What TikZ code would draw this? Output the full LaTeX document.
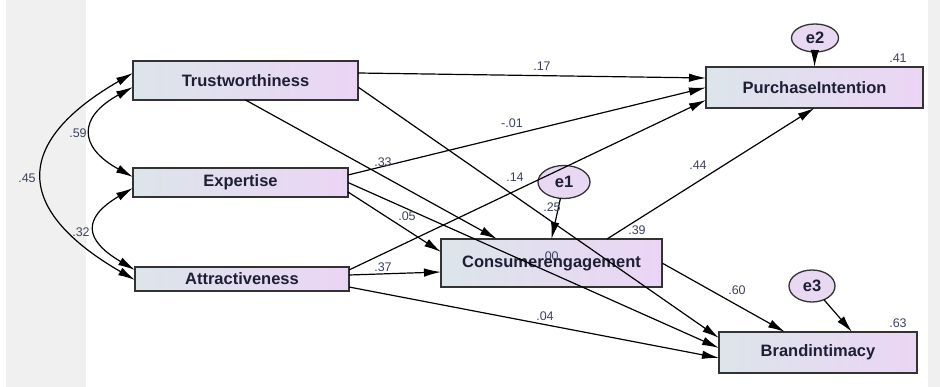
\documentclass[tikz,border=0pt]{standalone}
\usepackage{fontspec}
\setmainfont{Liberation Sans}
\usetikzlibrary{arrows.meta,shapes.geometric}
\definecolor{boxleft}{RGB}{220,229,234}
\definecolor{boxright}{RGB}{235,213,245}
\definecolor{errfill}{RGB}{232,216,242}
\definecolor{coefcol}{RGB}{60,66,92}
\definecolor{stripgray}{RGB}{240,240,240}
\definecolor{labelcol}{RGB}{30,30,52}

\begin{document}
\begin{tikzpicture}[x=1pt,y=-1pt]
        \tikzstyle{var}=[draw=black!80,line width=1.3pt,left color=boxleft,right color=boxright,inner sep=0pt,outer sep=0pt,font=\bfseries\fontsize{16.5}{18}\selectfont,text=labelcol]
        \tikzstyle{err}=[ellipse,draw=black!80,line width=1.3pt,fill=errfill,inner sep=0pt,outer sep=0pt,font=\bfseries\fontsize{16.5}{18}\selectfont,text=labelcol]
        \tikzstyle{effect}=[-{Latex[length=17pt,width=8.5pt]},line width=1.2pt]
        \tikzstyle{cov}=[{Latex[length=17pt,width=8.5pt]}-{Latex[length=17pt,width=8.5pt]},line width=1.2pt]
        \tikzstyle{coef}=[font=\fontsize{12.5}{12.5}\selectfont,text=coefcol,inner sep=0pt]
        \useasboundingbox (0,0) rectangle (940,387);
        \fill[stripgray] (6,0) rectangle (86,387);
        \fill[stripgray] (928,0) rectangle (940,387);
        \node[var,minimum width=225pt,minimum height=39pt] (trust) at (245.5,80.5) {Trustworthiness};
        \node[var,minimum width=215pt,minimum height=29pt] (expert) at (240.5,182.5) {Expertise};
        \node[var,minimum width=214pt,minimum height=24pt] (attract) at (242,279) {Attractiveness};
        \node[var,minimum width=221pt,minimum height=48pt] (engage) at (551.5,263) {};
        \node[coef] (l00) at (550,256) {.00};
        \node[font=\bfseries\fontsize{16.5}{18}\selectfont,text=labelcol,inner sep=0pt] (engagetext) at (engage.center) {Consumerengagement};
        \node[var,minimum width=217pt,minimum height=41pt] (purchase) at (814.5,87.5) {PurchaseIntention};
        \node[var,minimum width=198pt,minimum height=41pt] (brand) at (818,352.5) {Brandintimacy};
        \node[err,minimum width=52pt,minimum height=33pt] (e1) at (564,182) {e1};
        \node[err,minimum width=47pt,minimum height=28pt] (e2) at (815,38) {e2};
        \node[err,minimum width=46pt,minimum height=32pt] (e3) at (812,286) {e3};
        \draw[effect] ([yshift=7.5pt]trust.east) -- ([yshift=9.5pt]purchase.west);
        \draw[effect] ([yshift=7.5pt]expert.east) -- (purchase.west);
        \draw[effect] ([yshift=9pt]attract.east) -- ([yshift=-12.5pt]purchase.west);
        \draw[effect] ([xshift=55.5pt]engage.north) -- (purchase.south);
        \draw[effect] (trust.south) -- ([xshift=-54.5pt]engage.north);
        \draw[effect] ([yshift=-9.5pt]expert.east) -- ([yshift=11pt]engage.west);
        \draw[effect] ([yshift=4pt]attract.east) -- ([yshift=-9pt]engage.west);
        \draw[effect] ([yshift=-6.5pt]trust.east) -- ([yshift=14.5pt]brand.west);
        \draw[effect] (expert.east) -- ([yshift=4.5pt]brand.west);
        \draw[effect] ([yshift=-8pt]attract.east) -- ([yshift=-5.5pt]brand.west);
        \draw[effect] (engage.east) -- ([xshift=-33pt]brand.north);
        \draw[effect] (e1) -- (engage.north);
        \draw[effect] (e2) -- (purchase.north);
        \draw[effect] (e3) -- ([xshift=34pt]brand.north);
        \draw[cov] ([yshift=-6.5pt]trust.west) .. controls +(-55,30) and +(-55,-30) .. ([yshift=5.5pt]expert.west);
        \draw[cov] ([yshift=-5.5pt]expert.west) .. controls +(-51,30) and +(-51,-30) .. ([yshift=9pt]attract.west);
        \draw[cov] ([yshift=7.5pt]trust.west) .. controls +(-121,70) and +(-121,-70) .. ([yshift=-1pt]attract.west);
        \node[coef] (l17) at (542,66) {.17};
        \node[coef] (l01) at (512,123) {-.01};
        \node[coef] (l14) at (515,177) {.14};
        \node[coef] (l44) at (698,165) {.44};
        \node[coef] (l39) at (637,230) {.39};
        \node[coef] (l33) at (383,162) {.33};
        \node[coef] (l05) at (407,216) {.05};
        \node[coef] (l37) at (383,267) {.37};
        \node[coef] (l25) at (552,207) {.25};
        \node[coef] (l04) at (545,316) {.04};
        \node[coef] (l60) at (737,290) {.60};
        \node[coef] (l41) at (898,58) {.41};
        \node[coef] (l63) at (898,323) {.63};
        \node[coef] (l59) at (78,133) {.59};
        \node[coef] (l32) at (81,232) {.32};
        \node[coef] (l45) at (27,178) {.45};
\end{tikzpicture}
\end{document}
